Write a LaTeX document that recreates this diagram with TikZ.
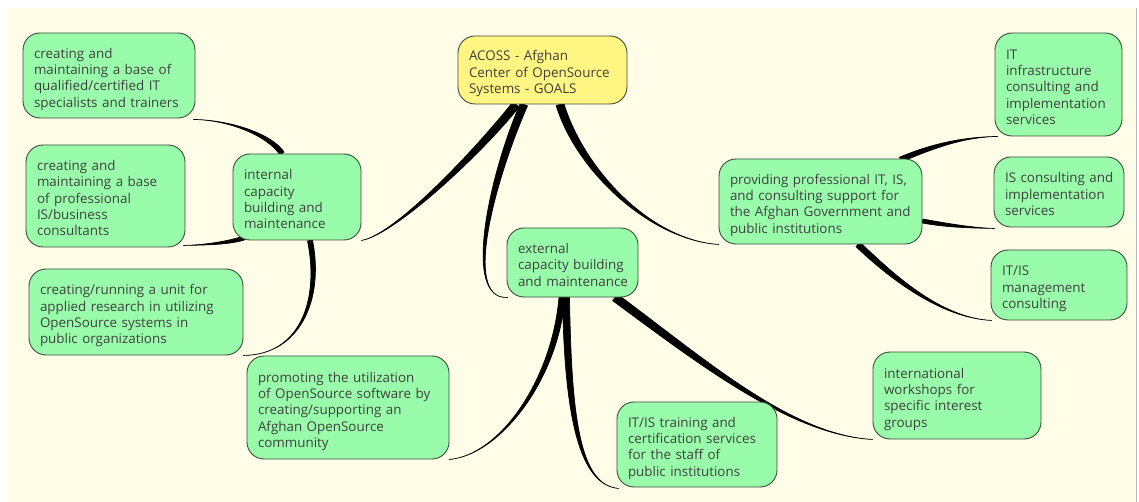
\documentclass[tikz,border=0pt]{standalone}
\usepackage{fontspec}
\setmainfont{Open Sans}[WordSpace=0.7]
\usetikzlibrary{calc}
\pgfdeclarelayer{bg}
\pgfsetlayers{bg,main}
\definecolor{cream}{HTML}{FFFDE8}
\definecolor{boxgreen}{HTML}{99FCAA}
\definecolor{boxyellow}{HTML}{FFF582}
\definecolor{edgecol}{HTML}{3C4A3C}
\definecolor{txt}{HTML}{404040}
\definecolor{frame}{HTML}{B8B8B8}
\newcommand\boxlines[1]{\raisebox{0pt}[\dimexpr\height+8pt\relax][\depth]{\begin{tabular}{@{}l@{}}#1\end{tabular}}}
\newcommand\taper[5]{%
  \filldraw[conn] ($#1!#5!90:#2$) .. controls ($#2!#5!-90:#1$) and #3 .. #4
    .. controls #3 and ($#2!#5!90:#1$) .. ($#1!#5!-90:#2$) -- cycle;}
\tikzset{
  box/.style={draw=edgecol, line width=0.9pt, fill=boxgreen, rounded corners=17pt,
    inner xsep=11pt, inner ysep=0pt, text=txt,
    font=\fontsize{13.4}{16.3}\selectfont},
  rootbox/.style={box, fill=boxyellow},
  conn/.style={fill=black, draw=black, line width=0.7pt, line join=round}
}
\begin{document}
\begin{tikzpicture}[x=1pt,y=-1pt]
\useasboundingbox (0,0) rectangle (1139,502);
\begin{pgfonlayer}{bg}
  \fill[white] (0,0) rectangle (1139,502);
  \fill[cream] (7,8) rectangle (1136,502);
  \draw[frame, line width=1pt] (1136.5,8) -- (1136.5,502);
\end{pgfonlayer}

\node[rootbox, minimum width=169pt, minimum height=68pt, text width=147pt] (root) at (542.5,70)
  {\boxlines{ACOSS - Afghan\\Center of OpenSource\\Systems - GOALS}};
\node[box, minimum width=172pt, minimum height=85pt, text width=150pt] (a1) at (109,75.5)
  {\boxlines{creating and\\maintaining a base of\\qualified/certified IT\\specialists and trainers}};
\node[box, minimum width=159pt, minimum height=102pt, text width=137pt] (a2) at (105.5,196)
  {\boxlines{creating and\\maintaining a base\\of professional\\IS/business\\consultants}};
\node[box, minimum width=128pt, minimum height=86pt, text width=106pt] (internal) at (297,197)
  {\boxlines{internal\\capacity\\building and\\maintenance}};
\node[box, minimum width=214pt, minimum height=86pt, text width=192pt] (a3) at (136,312)
  {\boxlines{creating/running a unit for\\applied research in utilizing\\OpenSource systems in\\public organizations}};
\node[box, minimum width=202pt, minimum height=103pt, text width=180pt] (a4) at (348,407.5)
  {\boxlines{promoting the utilization\\of OpenSource software by\\creating/supporting an\\Afghan OpenSource\\community}};
\node[box, minimum width=131pt, minimum height=69pt, text width=109pt] (external) at (572.5,262.5)
  {\boxlines{external\\capacity building\\and maintenance}};
\node[box, minimum width=160pt, minimum height=85pt, text width=138pt] (e1) at (697,444.5)
  {\boxlines{IT/IS training and\\certification services\\for the staff of\\public institutions}};
\node[box, minimum width=168pt, minimum height=87pt, text width=146pt] (e2) at (957,395.5)
  {\boxlines{international\\workshops for\\specific interest\\groups}};
\node[box, minimum width=203pt, minimum height=85pt, text width=181pt] (providing) at (820.5,201.5)
  {\boxlines{providing professional IT, IS,\\and consulting support for\\the Afghan Government and\\public institutions}};
\node[box, minimum width=127pt, minimum height=103pt, text width=105pt] (p1) at (1058.5,84.5)
  {\boxlines{IT\\infrastructure\\consulting and\\implementation\\services}};
\node[box, minimum width=130pt, minimum height=70pt, text width=108pt] (p2) at (1059,192)
  {\boxlines{IS consulting and\\implementation\\services}};
\node[box, minimum width=136pt, minimum height=70pt, text width=114pt] (p3) at (1059,285)
  {\boxlines{IT/IS\\management\\consulting}};

\begin{pgfonlayer}{bg}
  % connector end points on the nodes
  \coordinate (r1) at ($(root.south)+(-26.5,0)$);
  \coordinate (r2) at ($(root.south)+(-18.5,0)$);
  \coordinate (r3) at ($(root.south)+(17.5,0)$);
  \coordinate (i1) at ($(internal.north)+(-15,0)$);
  \coordinate (i2) at ($(internal.south west)+(13,-3)$);
  \coordinate (i3) at ($(internal.south)+(13,0)$);
  \coordinate (x1) at ($(external.south)+(-10.5,0)$);
  \coordinate (x2) at ($(external.south)+(-6.5,0)$);
  \coordinate (x3) at ($(external.south)+(42.5,0)$);
  \coordinate (q1) at ($(providing.north east)+(-22,1)$);
  \coordinate (q2) at ($(providing.east)+(0,19.5)$);
  \coordinate (q3) at ($(providing.south)+(37.5,0)$);
  \coordinate (ea1) at ($(a1.south east)+(-2,1)$);
  \coordinate (ea2) at ($(a2.south east)+(-2,-2)$);
  \coordinate (ee1) at ($(e1.south west)+(2,1)$);
  \coordinate (ep1) at ($(p1.south west)+(3,0)$);
  \coordinate (ep2) at ($(p2.south west)+(1,1)$);
  \coordinate (ep3) at ($(p3.south west)+(1,0)$);
  % root connectors
  \taper{(r1)}{(480,150)}{(395,235)}{(internal.south east)}{4pt}
  \taper{(r2)}{(495,170)}{(460,300)}{($(external.south west)+(1,0)$)}{3.8pt}
  \taper{(r3)}{(580,170)}{(650,240)}{(providing.south west)}{4pt}
  % internal
  \taper{(i1)}{(270,135)}{(230,120)}{(ea1)}{2.5pt}
  \taper{(i2)}{(230,243)}{(205,245)}{(ea2)}{2pt}
  \taper{(i3)}{(322,300)}{(300,355)}{(a3.south east)}{2.5pt}
  % external
  \taper{(x1)}{(555,380)}{(500,455)}{(a4.south east)}{3pt}
  \taper{(x2)}{(568,420)}{(580,485)}{(ee1)}{3.5pt}
  \taper{(x3)}{(700,360)}{(790,435)}{(e2.south west)}{4pt}
  % providing
  \taper{(q1)}{(935,145)}{(965,137)}{(ep1)}{2.5pt}
  \taper{(q2)}{(950,226)}{(975,228)}{(ep2)}{2pt}
  \taper{(q3)}{(890,275)}{(940,318)}{(ep3)}{3pt}
\end{pgfonlayer}
\end{tikzpicture}
\end{document}
